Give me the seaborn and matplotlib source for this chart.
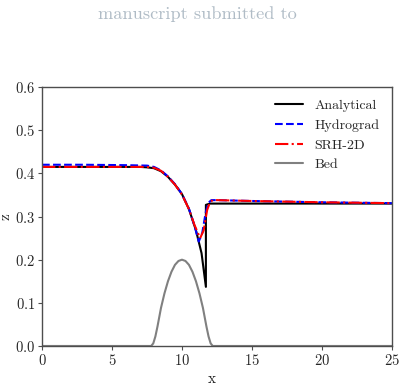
import matplotlib
matplotlib.use("Agg")
import matplotlib.pyplot as plt
import seaborn as sns
import numpy as np
import pandas as pd

# values
x_ana = [0, 2, 4, 6, 7, 7.5, 8, 8.5, 9, 9.5, 10, 10.5, 11, 11.4, 11.71, 11.71, 12, 15, 20, 25]
z_ana = [0.415, 0.415, 0.415, 0.415, 0.415, 0.414, 0.412, 0.405, 0.392, 0.374, 0.352, 0.317,
         0.268, 0.215, 0.137, 0.327, 0.330, 0.330, 0.330, 0.330]

x_hyd = [0, 3, 6, 7.5, 8, 8.5, 9, 9.5, 10, 10.5, 10.9, 11.2, 11.45, 11.7, 11.9, 12.1, 12.5, 15, 20, 25]
z_hyd = [0.420, 0.420, 0.419, 0.418, 0.415, 0.407, 0.393, 0.375, 0.352, 0.318, 0.278, 0.242,
         0.262, 0.310, 0.332, 0.338, 0.338, 0.336, 0.333, 0.331]

x_srh = [0, 3, 6, 7.5, 8, 8.5, 9, 9.5, 10, 10.5, 10.9, 11.3, 11.55, 11.8, 12.0, 12.2, 12.5, 15, 20, 25]
z_srh = [0.415, 0.415, 0.415, 0.415, 0.413, 0.406, 0.392, 0.374, 0.351, 0.317, 0.280, 0.250,
         0.268, 0.315, 0.333, 0.338, 0.338, 0.336, 0.333, 0.331]

x_bed = [0, 7.5, 7.8, 7.95, 8.1, 8.25, 8.5, 8.75, 9, 9.25, 9.5, 9.75, 10, 10.25, 10.5, 10.75,
         11, 11.25, 11.5, 11.75, 11.9, 12.05, 12.2, 12.5, 25]
z_bed = [0.0, 0.0, 0.0, 0.006, 0.022, 0.045, 0.088, 0.122, 0.150, 0.172, 0.188, 0.197, 0.200,
         0.197, 0.188, 0.172, 0.150, 0.122, 0.088, 0.045, 0.022, 0.006, 0.0, 0.0, 0.0]

sns.set_style("ticks")
plt.rcParams['font.family'] = ['cmr10', 'DejaVu Serif']
plt.rcParams['mathtext.fontset'] = 'cm'
plt.rcParams['axes.formatter.use_mathtext'] = True
plt.rcParams['axes.unicode_minus'] = False

fig = plt.figure(figsize=(4.04, 3.87), dpi=100)
ax = fig.add_axes([0.104, 0.106, 0.866, 0.669])

sns.lineplot(x=x_ana, y=z_ana, ax=ax, color='black', lw=1.5, sort=False, estimator=None, label='Analytical')
sns.lineplot(x=x_hyd, y=z_hyd, ax=ax, color='blue', lw=1.5, ls='--', sort=False, estimator=None, label='Hydrograd')
sns.lineplot(x=x_srh, y=z_srh, ax=ax, color='red', lw=1.5, ls='-.', sort=False, estimator=None, label='SRH-2D')
sns.lineplot(x=x_bed, y=z_bed, ax=ax, color='gray', lw=1.5, sort=False, estimator=None, label='Bed')

ax.set_xlim(0, 25)
ax.set_ylim(0, 0.6)
ax.set_xticks([0, 5, 10, 15, 20, 25])
ax.set_yticks([0.0, 0.1, 0.2, 0.3, 0.4, 0.5, 0.6])
ax.set_xlabel('x', fontsize=11)
ax.set_ylabel('z', fontsize=11)
ax.xaxis.set_label_coords(0.485, -0.1)
ax.yaxis.set_label_coords(-0.084, 0.5)
ax.tick_params(labelsize=10.5, length=3, pad=2, color='0.3')
for s in ax.spines.values():
    s.set_color('0.3')
    s.set_linewidth(1.0)

ax.legend(loc='upper right', frameon=False, fontsize=10, handlelength=2.0)

fig.text(0.488, 0.963, 'manuscript submitted to', ha='center', va='center',
         fontsize=13.2, color='#b0bcc6')

fig.savefig('out.png', dpi=100)
